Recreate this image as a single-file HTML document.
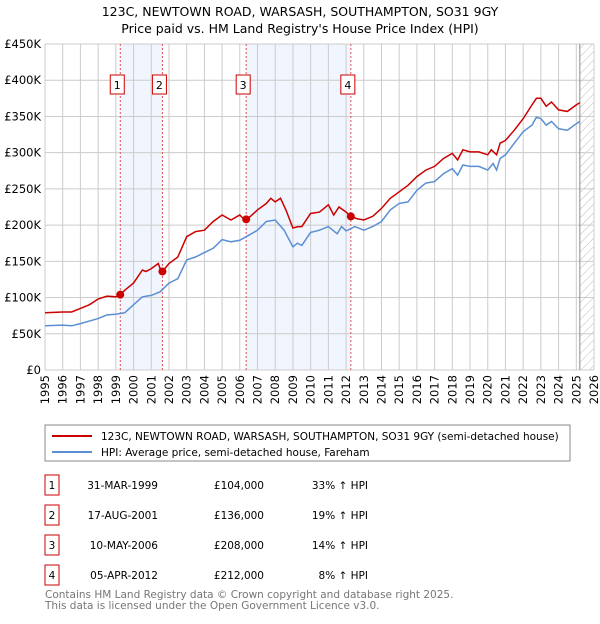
<!DOCTYPE html>
<html><head><meta charset="utf-8"><style>
body{margin:0;background:#fff;font-family:"DejaVu Sans","Liberation Sans",sans-serif}
svg text{font-family:"DejaVu Sans","Liberation Sans",sans-serif}
</style></head><body>
<svg width="600" height="620" viewBox="0 0 600 620" id="c">
<defs><pattern id="hatch" width="6" height="6" patternUnits="userSpaceOnUse" patternTransform="rotate(45)"><line x1="0" y1="0" x2="0" y2="6" stroke="#bbb" stroke-width="1"/></pattern></defs>
<text x="300" y="16" text-anchor="middle" font-size="12.5">123C, NEWTOWN ROAD, WARSASH, SOUTHAMPTON, SO31 9GY</text>
<text x="300" y="33" text-anchor="middle" font-size="12.5">Price paid vs. HM Land Registry's House Price Index (HPI)</text>
<g id="plot"></g>
<rect x="45" y="425" width="525" height="36" fill="#fff" stroke="#888"/>
<line x1="52" y1="436" x2="92" y2="436" stroke="#cc0000" stroke-width="2"/>
<text x="101" y="440" font-size="10.5">123C, NEWTOWN ROAD, WARSASH, SOUTHAMPTON, SO31 9GY (semi-detached house)</text>
<line x1="52" y1="452" x2="92" y2="452" stroke="#5b8fd4" stroke-width="2"/>
<text x="101" y="456" font-size="10.5">HPI: Average price, semi-detached house, Fareham</text>
<g id="table" font-size="10.5"></g>
<text x="45" y="598" font-size="10.5" fill="#777">Contains HM Land Registry data © Crown copyright and database right 2025.</text>
<text x="45" y="609" font-size="10.5" fill="#777">This data is licensed under the Open Government Licence v3.0.</text>
</svg>
<script>
const yTicks=[0,50,100,150,200,250,300,350,400,450];
const yTickLabels=["£0","£50K","£100K","£150K","£200K","£250K","£300K","£350K","£400K","£450K"];
const xYears=[1995,1996,1997,1998,1999,2000,2001,2002,2003,2004,2005,2006,2007,2008,2009,2010,2011,2012,2013,2014,2015,2016,2017,2018,2019,2020,2021,2022,2023,2024,2025,2026];
const hpiT=[1995,1996,1996.5,1997,1998,1998.5,1999,1999.5,2000,2000.5,2001,2001.5,2002,2002.5,2003,2003.5,2004,2004.5,2005,2005.5,2006,2006.5,2007,2007.5,2008,2008.5,2009,2009.25,2009.5,2010,2010.5,2011,2011.5,2011.75,2012,2012.5,2013,2013.5,2014,2014.5,2015,2015.5,2016,2016.5,2017,2017.5,2018,2018.3,2018.6,2019,2019.5,2020,2020.3,2020.5,2020.7,2021,2021.5,2022,2022.5,2022.75,2023,2023.3,2023.6,2024,2024.5,2025,2025.2];
const hpiV=[61,62,61,64,71,76,77,79,90,101,103,108,120,126,152,156,162,168,180,177,179,186,193,205,207,193,170,175,172,190,193,198,188,198,192,198,193,198,205,221,230,232,248,258,260,271,278,269,283,281,281,276,285,276,292,297,313,329,338,349,347,338,343,333,331,340,343];
const propT=[1995,1996,1996.5,1997,1997.5,1998,1998.5,1999,1999.25,1999.5,2000,2000.5,2000.7,2001,2001.4,2001.5,2001.63,2002,2002.5,2003,2003.5,2004,2004.5,2005,2005.5,2006,2006.2,2006.36,2006.6,2007,2007.5,2007.75,2008,2008.3,2008.6,2009,2009.3,2009.5,2010,2010.5,2011,2011.3,2011.6,2012,2012.27,2012.6,2013,2013.5,2014,2014.5,2015,2015.5,2016,2016.5,2017,2017.5,2018,2018.3,2018.6,2019,2019.5,2020,2020.2,2020.5,2020.7,2021,2021.5,2022,2022.5,2022.75,2023,2023.3,2023.6,2024,2024.5,2025,2025.2];
const propV=[79,80,80,85,90,98,102,101,104,110,120,138,136,140,147,140,136,147,156,184,191,193,205,214,207,214,209,208,212,221,230,237,232,237,221,196,198,198,216,218,228,214,225,218,212,209,207,212,223,237,246,255,267,276,281,292,299,290,304,301,301,297,304,297,313,317,331,347,366,375,375,364,370,359,357,366,369];
const saleT=[1999.25,2001.63,2006.36,2012.27];
const saleV=[104,136,208,212];
const saleLabels=["1","2","3","4"];
const saleDates=["31-MAR-1999","17-AUG-2001","10-MAY-2006","05-APR-2012"];
const salePrices=["£104,000","£136,000","£208,000","£212,000"];
const saleHpi=["33% ↑ HPI","19% ↑ HPI","14% ↑ HPI","8% ↑ HPI"];
const dataEnd=2025.2;

const NS="http://www.w3.org/2000/svg";
const L=45,R=594,T=44,B=370;
const xs=t=>L+(t-1995)/(2026-1995)*(R-L);
const ys=v=>B-v/450*(B-T);
const plot=document.getElementById('plot');
function mk(tag,attrs,parent){const e=document.createElementNS(NS,tag);for(const k in attrs)e.setAttribute(k,attrs[k]);(parent||plot).appendChild(e);return e;}
for(let i=0;i<saleT.length;i+=2){
 const r=mk('rect',{x:xs(saleT[i]),y:T,width:xs(saleT[i+1])-xs(saleT[i]),height:B-T,fill:'#eef3fc',opacity:0.8});
 
 
}
const h=mk('rect',{x:xs(dataEnd),y:T,width:R-xs(dataEnd),height:B-T,fill:'url(#hatch)'});


yTicks.forEach((v,i)=>{
 const g=mk('line',{x1:L,x2:R,y1:ys(v),y2:ys(v),stroke:'#ccc'});
 
 
 const t=mk('text',{x:L-4,y:ys(v)+4,'text-anchor':'end','font-size':'11.5'});t.textContent=yTickLabels[i];
 
 
});
xYears.forEach(y=>{
 const g=mk('line',{x1:xs(y),x2:xs(y),y1:T,y2:B,stroke:'#ccc'});
 
 
 const t=mk('text',{x:0,y:0,'text-anchor':'end','font-size':'11.5',transform:`translate(${xs(y)+4},${B+5}) rotate(-90)`});t.textContent=y;
 
 
});
const ed=mk('line',{x1:xs(dataEnd),x2:xs(dataEnd),y1:T,y2:B,stroke:'#888'});


saleT.forEach((t,i)=>{
 const l=mk('line',{x1:xs(t),x2:xs(t),y1:T,y2:B,stroke:'#e05050','stroke-dasharray':'2,2'});
 
 
});
function path(ts,vs,col,name){
 const d=ts.map((t,i)=>(i?'L':'M')+xs(t).toFixed(1)+','+ys(vs[i]).toFixed(1)).join('');
 const p=mk('path',{d:d,fill:'none',stroke:col,'stroke-width':1.5});
 
 
}
path(hpiT,hpiV,'#5b8fd4','hpi-line');
path(propT,propV,'#cc0000','property-line');
saleT.forEach((t,i)=>{
 const c=mk('circle',{cx:xs(t),cy:ys(saleV[i]),r:4,fill:'#cc0000'});
 
 
 const bx=mk('rect',{x:xs(t)-10,y:75,width:14,height:19,fill:'#fff',stroke:'#cc0000'});
 
 
 const tx=mk('text',{x:xs(t)-3,y:89,'text-anchor':'middle','font-size':'11'});tx.textContent=saleLabels[i];
 
 
});
const tb=document.getElementById('table');
const rowY=[485,515,545,575];
saleT.forEach((t,i)=>{
 const y=rowY[i];
 const b=mk('rect',{x:45,y:y-10,width:14,height:20,fill:'#fff',stroke:'#cc0000'},tb);
 
 
 const cells=[[52,'middle',saleLabels[i],'table-row-number'],[158,'end',saleDates[i],'table-row-date'],[264,'end',salePrices[i],'table-row-price'],[368,'end',saleHpi[i],'table-row-hpi']];
 cells.forEach(c=>{
  const e=mk('text',{x:c[0],y:y+4,'text-anchor':c[1]},tb);e.textContent=c[2];
  
  
 });
});
</script>
</body></html>
